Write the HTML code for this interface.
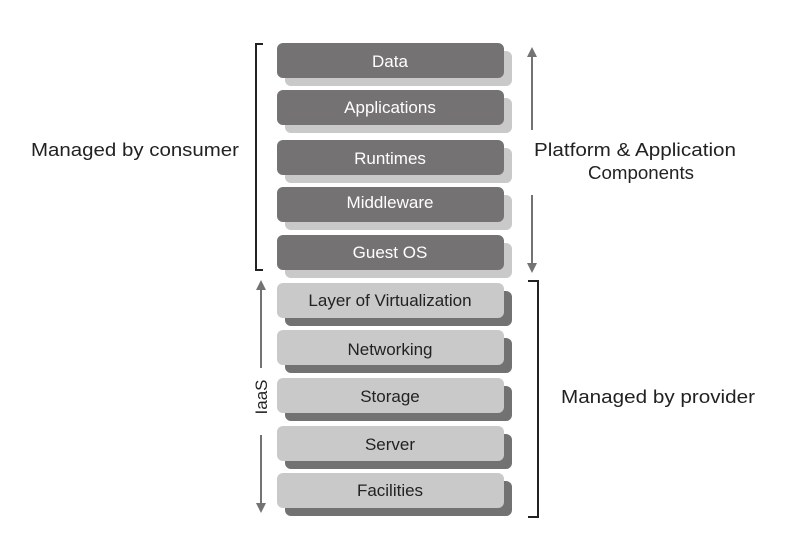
<!DOCTYPE html>
<html><head><meta charset="utf-8"><style>
html,body{margin:0;padding:0;background:#fff;}
svg{display:block;}
text{font-family:"Liberation Sans",sans-serif;}
</style></head><body>
<svg width="787" height="537" viewBox="0 0 787 537" xmlns="http://www.w3.org/2000/svg">
<defs>
<marker id="ah" markerWidth="10" markerHeight="10" refX="5" refY="5" orient="auto" markerUnits="userSpaceOnUse">
<path d="M0,0 L10,5 L0,10 z" fill="#737373"/>
</marker>
</defs>
<g>
<rect x="285" y="51" width="227" height="35" rx="6" fill="#c9c9c9"/>
<rect x="277" y="43" width="227" height="35" rx="6" fill="#757273"/>
<rect x="285" y="98" width="227" height="35" rx="6" fill="#c9c9c9"/>
<rect x="277" y="90" width="227" height="35" rx="6" fill="#757273"/>
<rect x="285" y="148" width="227" height="35" rx="6" fill="#c9c9c9"/>
<rect x="277" y="140" width="227" height="35" rx="6" fill="#757273"/>
<rect x="285" y="195" width="227" height="35" rx="6" fill="#c9c9c9"/>
<rect x="277" y="187" width="227" height="35" rx="6" fill="#757273"/>
<rect x="285" y="243" width="227" height="35" rx="6" fill="#c9c9c9"/>
<rect x="277" y="235" width="227" height="35" rx="6" fill="#757273"/>
</g>
<g fill="#fff" font-size="17" text-anchor="middle">
<text x="390" y="67">Data</text>
<text x="390" y="113">Applications</text>
<text x="390" y="164">Runtimes</text>
<text x="390" y="208">Middleware</text>
<text x="390" y="258">Guest OS</text>
</g>
<g>
<rect x="285" y="291" width="227" height="35" rx="6" fill="#727272"/>
<rect x="277" y="283" width="227" height="35" rx="6" fill="#c9c9c9"/>
<rect x="285" y="338" width="227" height="35" rx="6" fill="#727272"/>
<rect x="277" y="330" width="227" height="35" rx="6" fill="#c9c9c9"/>
<rect x="285" y="386" width="227" height="35" rx="6" fill="#727272"/>
<rect x="277" y="378" width="227" height="35" rx="6" fill="#c9c9c9"/>
<rect x="285" y="434" width="227" height="35" rx="6" fill="#727272"/>
<rect x="277" y="426" width="227" height="35" rx="6" fill="#c9c9c9"/>
<rect x="285" y="481" width="227" height="35" rx="6" fill="#727272"/>
<rect x="277" y="473" width="227" height="35" rx="6" fill="#c9c9c9"/>
</g>
<g fill="#222" font-size="17" text-anchor="middle">
<text x="390" y="306">Layer of Virtualization</text>
<text x="390" y="355">Networking</text>
<text x="390" y="402">Storage</text>
<text x="390" y="450">Server</text>
<text x="390" y="496">Facilities</text>
</g>
<path d="M263,44 H256 V270 H263" fill="none" stroke="#222" stroke-width="2"/>
<path d="M528,281 H538 V517 H528" fill="none" stroke="#222" stroke-width="2"/>
<g stroke="#737373" stroke-width="2">
<line x1="532" y1="130" x2="532" y2="52" marker-end="url(#ah)"/>
<line x1="532" y1="195" x2="532" y2="268" marker-end="url(#ah)"/>
<line x1="261" y1="368" x2="261" y2="285" marker-end="url(#ah)"/>
<line x1="261" y1="435" x2="261" y2="508" marker-end="url(#ah)"/>
</g>
<text x="0" y="0" font-size="17" fill="#222" text-anchor="middle" transform="translate(267,397) rotate(-90)">IaaS</text>
<g fill="#222" font-size="18">
<text x="31" y="156" textLength="208" lengthAdjust="spacingAndGlyphs">Managed by consumer</text>
<text x="534" y="156" textLength="202" lengthAdjust="spacingAndGlyphs">Platform &amp; Application</text>
<text x="588" y="179" textLength="106" lengthAdjust="spacingAndGlyphs">Components</text>
<text x="561" y="403" textLength="194" lengthAdjust="spacingAndGlyphs">Managed by provider</text>
</g>
</svg>
</body></html>
